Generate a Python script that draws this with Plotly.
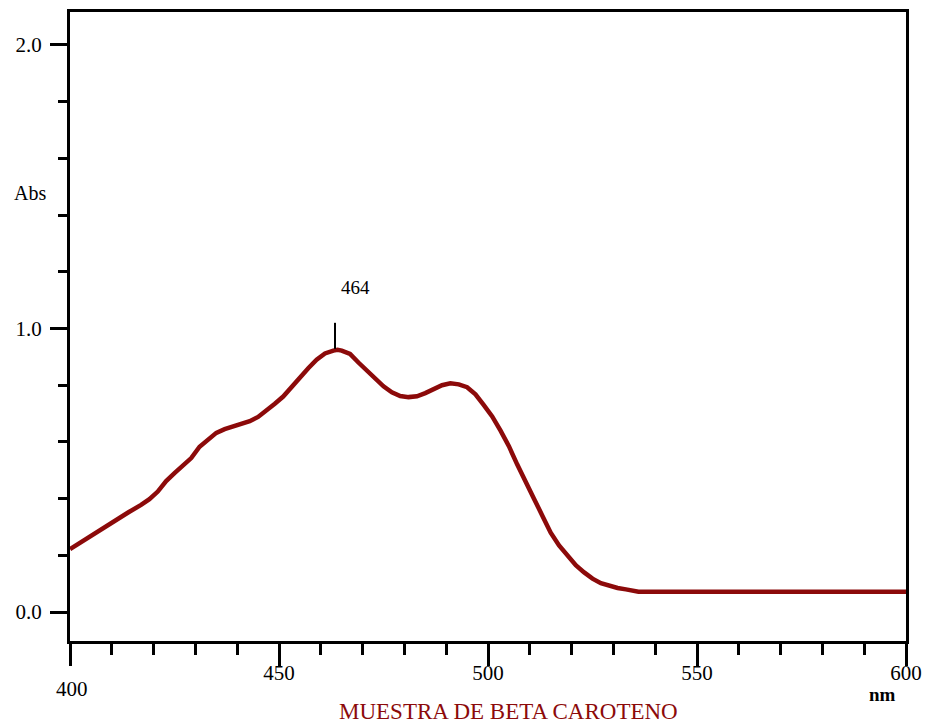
import plotly.graph_objects as go

# Wavelength (nm) and absorbance
wavelength = [400, 403, 406, 409, 411, 414, 417, 419, 421, 423, 425, 427, 429, 431, 433,
              435, 437, 439, 441, 443, 445, 447, 449, 451, 453, 455, 457, 459, 461, 463,
              464, 465, 467, 469, 471, 473, 475, 477, 479, 481, 483, 485, 487, 489, 491,
              493, 495, 497, 499, 501, 503, 505, 507, 509, 511, 513, 515, 517, 519, 521,
              523, 525, 527, 529, 531, 533, 535, 536, 600]
absorbance = [0.222, 0.250, 0.279, 0.307, 0.327, 0.352, 0.378, 0.398, 0.425, 0.462, 0.490,
              0.515, 0.543, 0.583, 0.607, 0.632, 0.645, 0.655, 0.662, 0.673, 0.688, 0.710,
              0.735, 0.760, 0.795, 0.830, 0.860, 0.890, 0.912, 0.922, 0.925, 0.922, 0.910,
              0.880, 0.853, 0.825, 0.796, 0.775, 0.762, 0.758, 0.761, 0.772, 0.786, 0.800,
              0.807, 0.803, 0.793, 0.768, 0.730, 0.690, 0.640, 0.585, 0.520, 0.456, 0.400,
              0.340, 0.280, 0.235, 0.200, 0.165, 0.140, 0.118, 0.102, 0.092, 0.085, 0.080,
              0.074, 0.072, 0.072]

x_ticks = [400, 450, 500, 550, 600]
x_ticktext = ["", "450", "500", "550", "600"]
y_ticks = [0.0, 1.0, 2.0]
y_ticktext = ["0.0", "1.0", "2.0"]

peak_nm = 464
peak_label = "464"
title_text = "MUESTRA DE BETA CAROTENO"

LINE_RED = "#8c0a0a"
SERIF = "Liberation Serif, Times New Roman, serif"

fig = go.Figure()
fig.add_trace(go.Scatter(
    x=wavelength, y=absorbance, mode="lines",
    line=dict(color=LINE_RED, width=4.5),
    showlegend=False, hoverinfo="skip"))

# peak marker
fig.add_shape(type="line", xref="x", yref="y",
              x0=peak_nm - 0.6, x1=peak_nm - 0.6, y0=0.928, y1=1.02,
              line=dict(color="black", width=2))
fig.add_annotation(x=peak_nm, y=1.143, xref="x", yref="y", text=peak_label,
                   showarrow=False, xshift=18,
                   font=dict(family=SERIF, size=19, color="black"))

# lower "400" label
fig.add_annotation(x=400, xref="x", y=0, yref="paper", yshift=-62, text="400",
                   showarrow=False, xshift=2,
                   font=dict(family=SERIF, size=21, color="black"))
# unit label under 600
fig.add_annotation(x=0.99, xref="paper", y=0, yref="paper", yshift=-66,
                   text="<b>nm</b>", showarrow=False,
                   font=dict(family=SERIF, size=19, color="black"))
# y-axis title
fig.add_annotation(x=0, xref="paper", y=1.478, yref="y", text="Abs", showarrow=False,
                   xshift=-58, font=dict(family=SERIF, size=20, color="black"))
# chart title
fig.add_annotation(x=0.5, xref="paper", y=0, yref="paper", yshift=-85, text=title_text,
                   showarrow=False, xshift=20,
                   font=dict(family=SERIF, size=23, color=LINE_RED))

fig.update_layout(
    width=925, height=724,
    margin=dict(l=70, r=19, t=12, b=83, autoexpand=False),
    paper_bgcolor="white", plot_bgcolor="white",
    font=dict(family=SERIF, size=21, color="black"),
    xaxis=dict(range=[400, 600], showgrid=False, zeroline=False, automargin=False,
               showline=True, linecolor="black", linewidth=3, mirror=True,
               tickmode="array", tickvals=x_ticks, ticktext=x_ticktext,
               ticks="outside", ticklen=22, tickwidth=2.5, tickcolor="black",
               ticklabelstandoff=-11,
               minor=dict(dtick=10, tick0=400, ticks="outside", ticklen=11,
                          tickwidth=2.5, tickcolor="black", showgrid=False),
               tickfont=dict(family=SERIF, size=21)),
    yaxis=dict(range=[-0.102, 2.116], showgrid=False, zeroline=False, automargin=False,
               showline=True, linecolor="black", linewidth=3, mirror=True,
               tickmode="array", tickvals=y_ticks, ticktext=y_ticktext,
               ticks="outside", ticklen=17, tickwidth=2.5, tickcolor="black",
               ticklabelstandoff=4,
               minor=dict(dtick=0.2, tick0=0, ticks="outside", ticklen=9,
                          tickwidth=2.5, tickcolor="black", showgrid=False),
               tickfont=dict(family=SERIF, size=21)),
)

fig.write_html("out.html")
